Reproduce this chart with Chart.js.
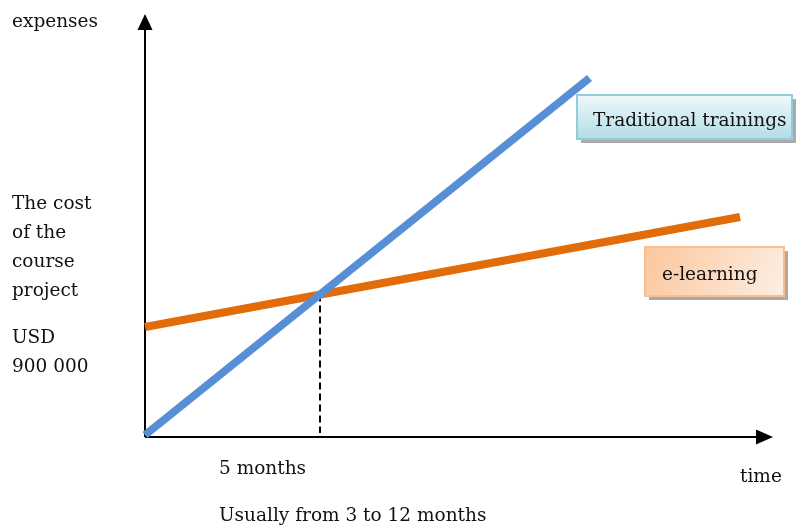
<!DOCTYPE html>
<html>
<head>
<meta charset="utf-8">
<script src="https://cdn.jsdelivr.net/npm/chart.js@4/dist/chart.umd.min.js"></script>
<style>
  html, body { margin: 0; padding: 0; background: #fff; }
  canvas { display: block; }
</style>
</head>
<body>
<canvas id="grafico" width="796" height="525"></canvas>
<script>
// months on x, relative expenses on y
const meses = [0, 12.7];
const tradicional = [0.02, 3.59];
const mesesEl = [0, 17];
const elearning = [1.10, 2.20];
const breakEven = 5;
const breakEvenY = 1.425;

const rotuloY = 'expenses';
const rotuloX = 'time';
const rotuloCusto = ['The cost', 'of the', 'course', 'project'];
const rotuloUsd = ['USD', '900 000'];
const rotuloMeses = '5 months';
const rotuloUsual = 'Usually from 3 to 12 months';
const nomeTradicional = 'Traditional trainings';
const nomeElearning = 'e-learning';

const fonte = '18.5px "DejaVu Serif", serif';

function caixa(ctx, x, y, w, h, grad, borda, texto, tx, ty) {
  ctx.save();
  ctx.fillStyle = 'rgba(100,100,100,0.55)';
  ctx.fillRect(x + 4, y + 4, w, h);
  ctx.fillStyle = grad;
  ctx.fillRect(x, y, w, h);
  ctx.strokeStyle = borda;
  ctx.lineWidth = 2;
  ctx.strokeRect(x, y, w, h);
  ctx.fillStyle = '#111';
  ctx.font = fonte;
  ctx.textBaseline = 'alphabetic';
  ctx.fillText(texto, tx, ty);
  ctx.restore();
}

const eixos = {
  id: 'eixos',
  beforeDatasetsDraw(chart) {
    const { ctx, scales: { x, y } } = chart;
    const x0 = x.getPixelForValue(0);
    const y0 = y.getPixelForValue(0);
    ctx.save();
    ctx.strokeStyle = '#000';
    ctx.fillStyle = '#000';
    ctx.lineWidth = 2;
    ctx.beginPath();
    ctx.moveTo(x0, y0);
    ctx.lineTo(x0, 28);
    ctx.moveTo(x0, y0);
    ctx.lineTo(758, y0);
    ctx.stroke();
    // arrow heads
    ctx.beginPath();
    ctx.moveTo(x0, 14);
    ctx.lineTo(x0 - 7.5, 30);
    ctx.lineTo(x0 + 7.5, 30);
    ctx.closePath();
    ctx.fill();
    ctx.beginPath();
    ctx.moveTo(773, y0);
    ctx.lineTo(756, y0 - 7.5);
    ctx.lineTo(756, y0 + 7.5);
    ctx.closePath();
    ctx.fill();
    // dashed break-even line
    const xb = x.getPixelForValue(breakEven);
    ctx.setLineDash([7, 4]);
    ctx.beginPath();
    ctx.moveTo(xb, y.getPixelForValue(breakEvenY));
    ctx.lineTo(xb, y0 - 4);
    ctx.stroke();
    ctx.restore();
  },
  afterDatasetsDraw(chart) {
    const { ctx } = chart;
    ctx.save();
    ctx.fillStyle = '#111';
    ctx.font = fonte;
    ctx.textBaseline = 'alphabetic';
    ctx.fillText(rotuloY, 12, 27);
    rotuloCusto.forEach((t, i) => ctx.fillText(t, 12, 209 + i * 29));
    rotuloUsd.forEach((t, i) => ctx.fillText(t, 12, 343 + i * 29));
    ctx.fillText(rotuloMeses, 219, 474);
    ctx.fillText(rotuloX, 740, 482);
    ctx.fillText(rotuloUsual, 219, 521);
    ctx.restore();

    const g1 = ctx.createLinearGradient(0, 95, 0, 139);
    g1.addColorStop(0, '#eef9fb');
    g1.addColorStop(1, '#b3dce7');
    caixa(ctx, 577, 95, 215, 44, g1, '#92cddc', nomeTradicional, 593, 126);

    const g2 = ctx.createLinearGradient(645, 247, 784, 296);
    g2.addColorStop(0, '#fbc79d');
    g2.addColorStop(1, '#fdeee3');
    caixa(ctx, 645, 247, 139, 49, g2, '#fabf8f', nomeElearning, 662, 280);
  }
};

const ctxGrafico = document.getElementById('grafico').getContext('2d');

new Chart(ctxGrafico, {
  type: 'scatter',
  data: {
    datasets: [
      {
        label: nomeTradicional,
        data: meses.map((m, i) => ({ x: m, y: tradicional[i] })),
        showLine: true,
        borderColor: '#578fd6',
        borderWidth: 8,
        pointRadius: 0,
        clip: false
      },
      {
        label: nomeElearning,
        data: mesesEl.map((m, i) => ({ x: m, y: elearning[i] })),
        showLine: true,
        borderColor: '#e36c0a',
        borderWidth: 8,
        pointRadius: 0,
        clip: false
      }
    ]
  },
  options: {
    responsive: false,
    animation: false,
    layout: { padding: { left: 145, right: 21, top: 15, bottom: 88 } },
    plugins: { legend: { display: false }, tooltip: { enabled: false } },
    scales: {
      x: { type: 'linear', min: 0, max: 18, display: false },
      y: { type: 'linear', min: 0, max: 4.22, display: false }
    }
  },
  plugins: [eixos]
});
</script>
</body>
</html>
